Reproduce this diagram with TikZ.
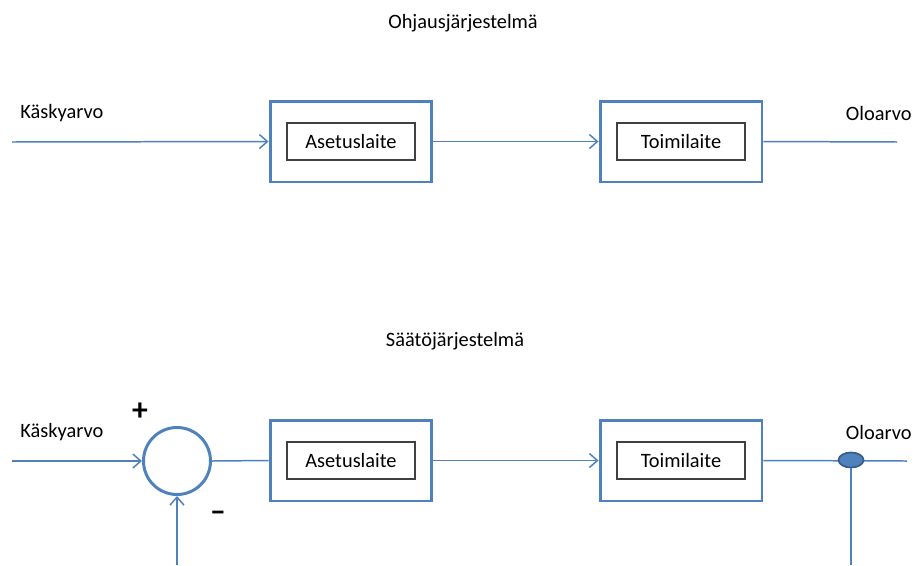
\documentclass[tikz,border=0pt]{standalone}
\usepackage{fontspec}
\setmainfont{Carlito}
\usetikzlibrary{
  positioning,
  arrows.meta,
  shapes.geometric,
}
\definecolor{lineBlue}{HTML}{4F81BD}
\definecolor{ellFill}{HTML}{4F81BD}
\definecolor{ellDraw}{HTML}{385D8A}
\definecolor{innerBorder}{HTML}{404040}
\definecolor{textCol}{HTML}{000000}
\tikzset{
  outerbox/.style={
    rectangle, draw=lineBlue, line width=1.7pt, fill=white,
    minimum width=3.24cm, minimum height=1.62cm, inner sep=0pt,
  },
  innerbox/.style={
    rectangle, draw=innerBorder, line width=0.6pt, fill=white,
    minimum width=2.56cm, minimum height=0.74cm, inner sep=0pt,
    font=\fontsize{11.6}{13}\selectfont, text=textCol,
  },
  sumnode/.style={
    circle, draw=lineBlue, line width=1.7pt, minimum size=1.34cm, inner sep=0pt,
  },
  tapnode/.style={
    ellipse, draw=ellDraw, fill=ellFill, line width=1pt,
    minimum width=0.5cm, minimum height=0.3cm, inner sep=0pt,
  },
  arrow/.style={-{Straight Barb[length=1.6mm, width=2.8mm]}, lineBlue, line width=0.85pt},
  wire/.style={lineBlue, line width=0.85pt},
  label/.style={font=\fontsize{11.6}{13}\selectfont, text=textCol, inner sep=0pt},
  sign/.style={font=\fontsize{18}{18}\selectfont\bfseries, text=textCol, inner sep=0pt},
}

\begin{document}
\begin{tikzpicture}[x=0.02cm, y=-0.02cm]
  \useasboundingbox (0, 0) rectangle (915, 565);

  % Ohjausjarjestelma
  \node[label] (title1) at (463, 23) {Ohjausjärjestelmä};

  \coordinate (in1) at (12, 142);
  \coordinate (out1) at (897, 142);

  \node[outerbox] (a1) at (351, 141.5) {};
  \node[innerbox] (a1in) at (a1) {Asetuslaite};
  \node[outerbox] (t1) at (681, 141.5) {};
  \node[innerbox] (t1in) at (t1) {Toimilaite};

  \node[label, anchor=west] (k1) at (20, 113) {Käskyarvo};
  \node[label, anchor=east] (o1) at (912, 113) {Oloarvo};

  \draw[arrow] (in1) -- (a1.west);
  \draw[arrow] (a1.east) -- (t1.west);
  \draw[wire] (t1.east) -- (out1);

  % Saatojarjestelma
  \node[label] (title2) at (455, 341) {Säätöjärjestelmä};

  \coordinate (in2) at (12, 461);
  \coordinate (out2) at (907, 461);
  \coordinate (fbR) at (851, 565);
  \coordinate (fbL) at (177, 565);

  \node[sumnode] (sum) at (177, 461) {};
  \node[sign] (plus) at (140, 412) {+};
  \node[sign] (minus) at (218, 516) {--};

  \node[outerbox] (a2) at (351, 460.5) {};
  \node[innerbox] (a2in) at (a2) {Asetuslaite};
  \node[outerbox] (t2) at (681, 460.5) {};
  \node[innerbox] (t2in) at (t2) {Toimilaite};

  \node[label, anchor=west] (k2) at (20, 432) {Käskyarvo};
  \node[label, anchor=east] (o2) at (912, 432) {Oloarvo};

  \draw[arrow] (in2) -- (sum.west);
  \draw[wire] (sum.east) -- (a2.west);
  \draw[arrow] (a2.east) -- (t2.west);
  \draw[wire] (t2.east) -- (out2);

  \node[tapnode] (tap) at (851, 460) {};
  \draw[wire] (tap.south) -- (fbR);
  \draw[arrow] (fbL) -- (sum.south);

\end{tikzpicture}
\end{document}
